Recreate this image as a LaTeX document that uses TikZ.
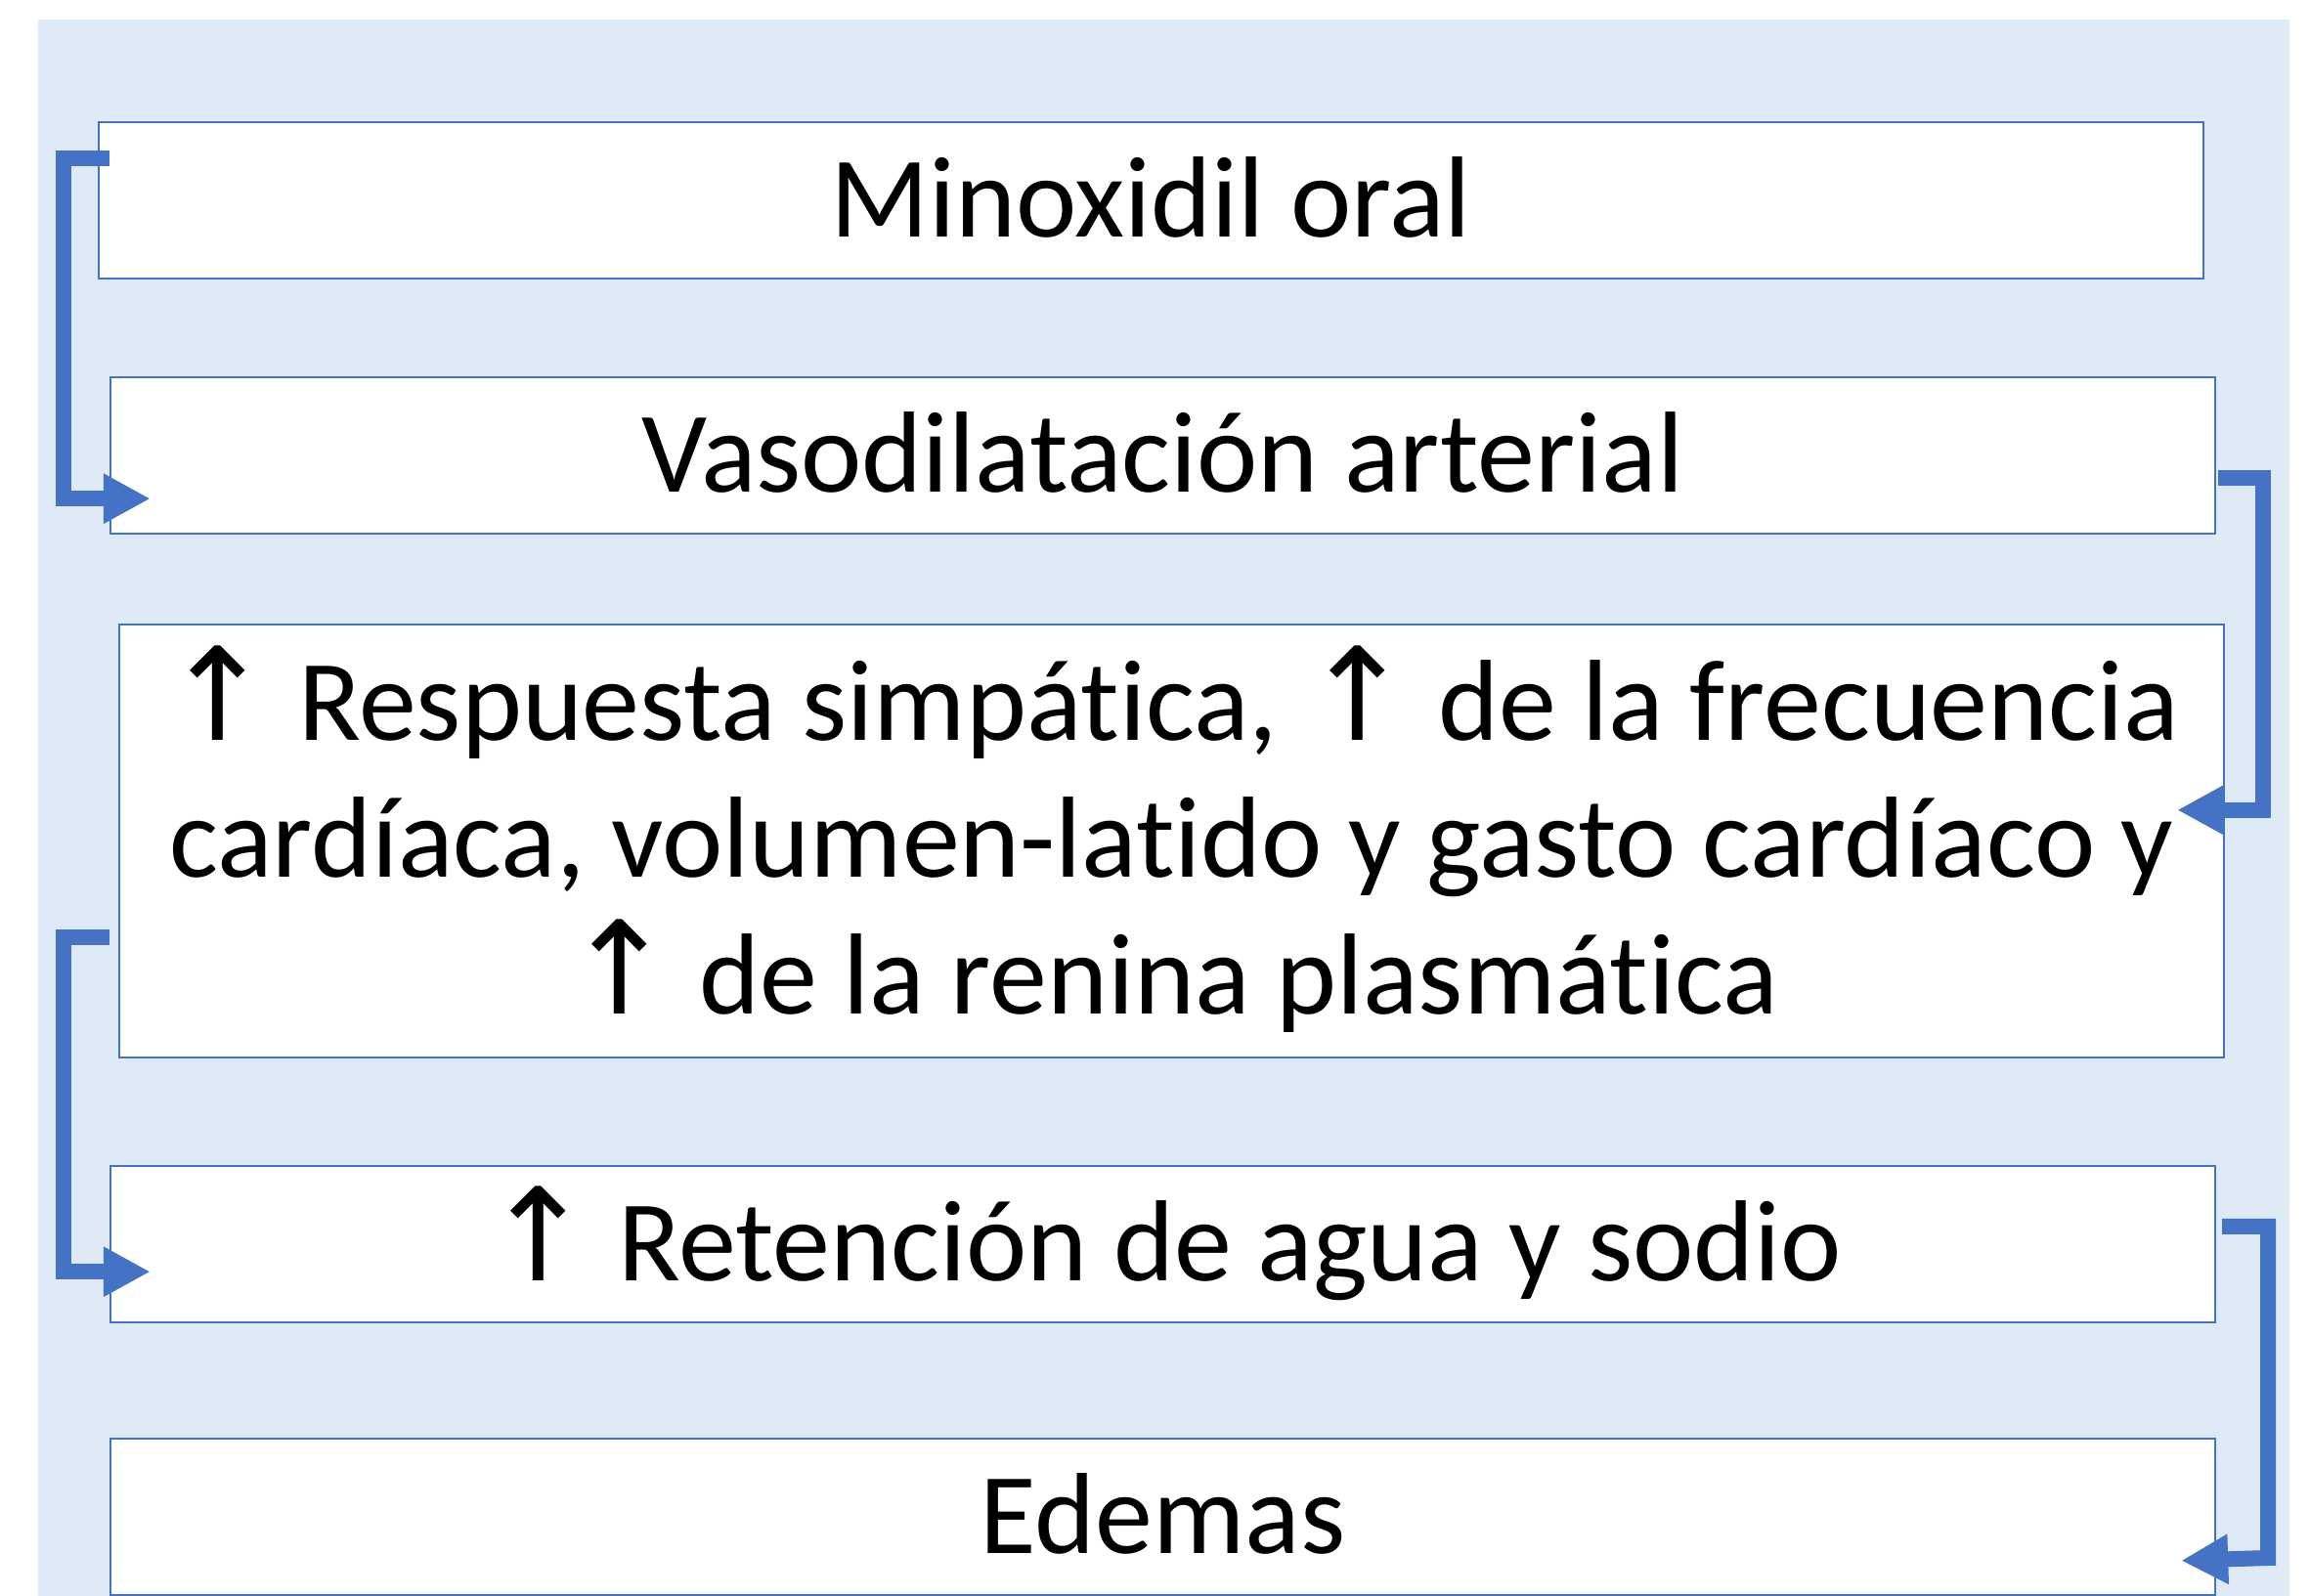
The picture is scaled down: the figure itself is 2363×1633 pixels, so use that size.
\documentclass[tikz,border=0pt]{standalone}
\usepackage{fontspec}
\setmainfont{Carlito}[Ligatures=NoCommon]
\newfontfamily\arrowfont{DejaVu Sans}
\usetikzlibrary{arrows.meta,calc}
\definecolor{bgblue}{HTML}{DEEAF6}
\definecolor{lineblue}{HTML}{4472C4}
\newcommand{\upar}{{\arrowfont\fontsize{66}{70}\selectfont ↑}}
\begin{document}
\begin{tikzpicture}[x=0.5pt,y=0.5pt,
  boxnode/.style={draw=lineblue,line width=1.2pt,fill=white,rectangle,
    minimum width=1076.5pt,inner sep=0pt,align=center,
    font=\fontsize{59}{70}\selectfont},
  onebox/.style={boxnode,minimum height=80pt,text height=48pt,text depth=10.7pt},
  conn/.style={draw=lineblue,line width=8pt,line join=miter,
    -{Triangle[length=24pt,width=24pt]}}]
\useasboundingbox (0,0) rectangle (2363,-1633);
\clip (0,0) rectangle (2363,-1633);
\fill[bgblue] (39,-20) rectangle (2342,-1650);
\node[onebox] (b1) at (1177.5,-205) {Minoxidil oral};
\node[onebox] (b2) at (1189.5,-466) {Vasodilatación arterial};
\node[boxnode,minimum height=221.5pt,text height=188pt,text depth=10.7pt] (b3) at (1198.5,-860.5)
  {\upar\ Respuesta simpática, \upar\ de la frecuencia\\
   cardíaca, volumen-latido y gasto cardíaco y\\
   \upar\ de la renina plasmática};
\node[onebox] (b4) at (1189.5,-1273) {\upar\ Retención de agua y sodio};
\node[onebox] (b5) at (1189.5,-1552) {Edemas};
\coordinate (s1) at ($(b1.north west)+(12,-38)$);
\coordinate (t1) at ($(b2.south west)+(42,37)$);
\draw[conn] (s1) -- (65,0 |- s1) |- (t1);
\coordinate (s2) at ($(b2.south east)+(2,58)$);
\coordinate (t2) at ($(b3.north east)+(-49,-191)$);
\draw[conn] (s2) -- (2315,0 |- s2) |- (t2);
\coordinate (s3) at ($(b3.south west)+(-9,124)$);
\coordinate (t3) at ($(b4.south west)+(42,53)$);
\draw[conn] (s3) -- (65,0 |- s3) |- (t3);
\coordinate (s4) at ($(b4.north east)+(6,-63)$);
\coordinate (t4) at ($(b5.north east)+(-36,-126)$);
\draw[conn] (s4) -- (2320,0 |- s4) -- (2320,-1594) -- (t4);
\end{tikzpicture}
\end{document}
